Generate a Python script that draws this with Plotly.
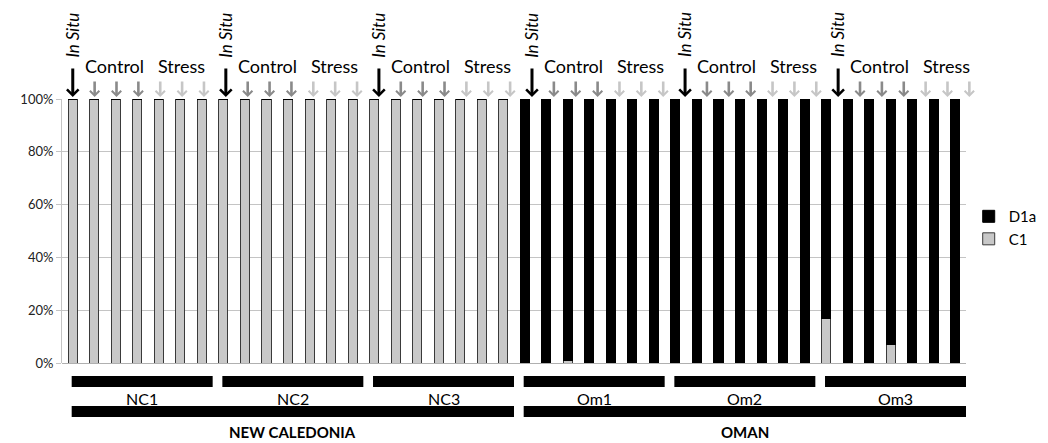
import plotly.graph_objects as go

# ---------------- data ----------------
sites = ["NC1", "NC2", "NC3", "Om1", "Om2", "Om3"]
regions = ["NEW CALEDONIA", "OMAN"]
region_site_counts = [3, 3]
treatments = ["In Situ", "Control", "Control", "Control", "Stress", "Stress", "Stress"]

# % of clade C1 per sample (7 samples per site, site order as above)
c1_pct = [
    100, 100, 100, 100, 100, 100, 100,   # NC1
    100, 100, 100, 100, 100, 100, 100,   # NC2
    100, 100, 100, 100, 100, 100, 100,   # NC3
    0, 0, 1, 0, 0, 0, 0,                 # Om1
    0, 0, 0, 0, 0, 0, 0,                 # Om2
    17, 0, 0, 7, 0, 0, 0,                # Om3
]
# % of clade D1a per sample
d1a_pct = [
    0, 0, 0, 0, 0, 0, 0,                 # NC1
    0, 0, 0, 0, 0, 0, 0,                 # NC2
    0, 0, 0, 0, 0, 0, 0,                 # NC3
    100, 100, 99, 100, 100, 100, 100,    # Om1
    100, 100, 100, 100, 100, 100, 100,   # Om2
    83, 100, 100, 93, 100, 100, 100,     # Om3
]
y_ticks = [0, 20, 40, 60, 80, 100]
y_tick_labels = ["0%", "20%", "40%", "60%", "80%", "100%"]

# ---------------- figure ----------------
categories = []
for s in sites:
    for j, t in enumerate(treatments):
        categories.append(f"{s} {t} {j}")
N = len(categories)

FONT = "Lato"
C1_COLOR = "#c8c8c8"
D1A_COLOR = "#000000"
OUTLINE = "#3a3a3a"

fig = go.Figure()
fig.add_trace(go.Bar(x=categories, y=c1_pct, name="C1", legendrank=2,
                     marker=dict(color=C1_COLOR, line=dict(color=OUTLINE, width=1))))
fig.add_trace(go.Bar(x=categories, y=d1a_pct, name="D1a", legendrank=1,
                     marker=dict(color=D1A_COLOR, line=dict(color="#000000", width=1))))

def bar_paper(i):
    return (i + 0.5) / N

ARROW_DRIFT = 1.016  # arrows in the original drift slightly right of the bars
annotations = []
shapes = []
arrow_style = {
    "In Situ": dict(color="#000000", length=32, width=3.0, size=0.75),
    "Control": dict(color="#8a8a8a", length=19, width=2.6, size=0.7),
    "Stress": dict(color="#c6c6c6", length=19, width=2.6, size=0.7),
}

def arrow_x(i):
    return (i * ARROW_DRIFT + 0.5) / N

for k, s in enumerate(sites):
    for j, t in enumerate(treatments):
        i = k * len(treatments) + j
        st = arrow_style[t]
        annotations.append(dict(
            x=arrow_x(i), y=1.0, xref="paper", yref="paper",
            text="", showarrow=True, ax=0, ay=-st["length"],
            arrowhead=4, arrowsize=st["size"], arrowwidth=st["width"],
            arrowcolor=st["color"], standoff=2, font=dict(size=1)))
    base = k * len(treatments)
    annotations.append(dict(
        x=arrow_x(base), y=1.243, xref="paper", yref="paper",
        text="<i>In Situ</i>", showarrow=False, textangle=-90,
        xanchor="center", yanchor="middle",
        font=dict(family=FONT, size=17, color="#000000")))
    annotations.append(dict(
        x=arrow_x(base + 2) - 2 / 904, y=1.125, xref="paper", yref="paper",
        text="Control", showarrow=False, xanchor="center", yanchor="middle",
        font=dict(family=FONT, size=18, color="#000000")))
    annotations.append(dict(
        x=arrow_x(base + 5) - 1 / 904, y=1.125, xref="paper", yref="paper",
        text="Stress", showarrow=False, xanchor="center", yanchor="middle",
        font=dict(family=FONT, size=18, color="#000000")))
    # site bar + label
    x0 = bar_paper(base - 0.05)
    x1 = bar_paper(base + len(treatments) - 1 + 0.5)
    shapes.append(dict(type="rect", xref="paper", yref="paper",
                       x0=x0, x1=x1, y0=-0.091, y1=-0.049,
                       fillcolor="#000000", line=dict(width=0)))
    annotations.append(dict(
        x=(x0 + x1) / 2, y=-0.133, xref="paper", yref="paper",
        text=s, showarrow=False, xanchor="center", yanchor="middle",
        font=dict(family=FONT, size=16, color="#000000")))

start = 0
for r, cnt in zip(regions, region_site_counts):
    b0 = start * len(treatments)
    b1 = (start + cnt) * len(treatments) - 1
    x0 = bar_paper(b0 - 0.05)
    x1 = bar_paper(b1 + 0.5)
    shapes.append(dict(type="rect", xref="paper", yref="paper",
                       x0=x0, x1=x1, y0=-0.205, y1=-0.163,
                       fillcolor="#000000", line=dict(width=0)))
    annotations.append(dict(
        x=(x0 + x1) / 2, y=-0.261, xref="paper", yref="paper",
        text=f"<b>{r}</b>", showarrow=False, xanchor="center", yanchor="middle",
        font=dict(family=FONT, size=15, color="#000000")))
    start += cnt

# the page body has an 8px default margin, so the figure is shrunk by 8px
fig.update_layout(
    width=1040, height=435,
    margin=dict(l=54, r=82, t=91, b=80, autoexpand=False),
    paper_bgcolor="#ffffff", plot_bgcolor="#ffffff",
    barmode="stack", bargap=0.58,
    font=dict(family=FONT, size=13, color="#222222"),
    showlegend=True,
    legend=dict(x=1.003, xanchor="left", y=0.513, yanchor="middle",
                traceorder="normal",
                itemwidth=30, font=dict(family=FONT, size=15, color="#000000"),
                bgcolor="rgba(0,0,0,0)"),
    xaxis=dict(showticklabels=False, showgrid=False, zeroline=False,
               showline=False, ticks="", fixedrange=True),
    yaxis=dict(range=[0, 100], tickmode="array", tickvals=y_ticks, ticktext=y_tick_labels,
               showgrid=True, gridcolor="#c4c4c4", gridwidth=1,
               zeroline=True, zerolinecolor="#b0b0b0", zerolinewidth=1,
               showline=True, linecolor="#c4c4c4", linewidth=1,
               ticks="outside", ticklen=5, tickcolor="#c4c4c4",
               tickfont=dict(family=FONT, size=13, color="#222222")),
    annotations=annotations, shapes=shapes,
)

fig.write_html("out.html")
